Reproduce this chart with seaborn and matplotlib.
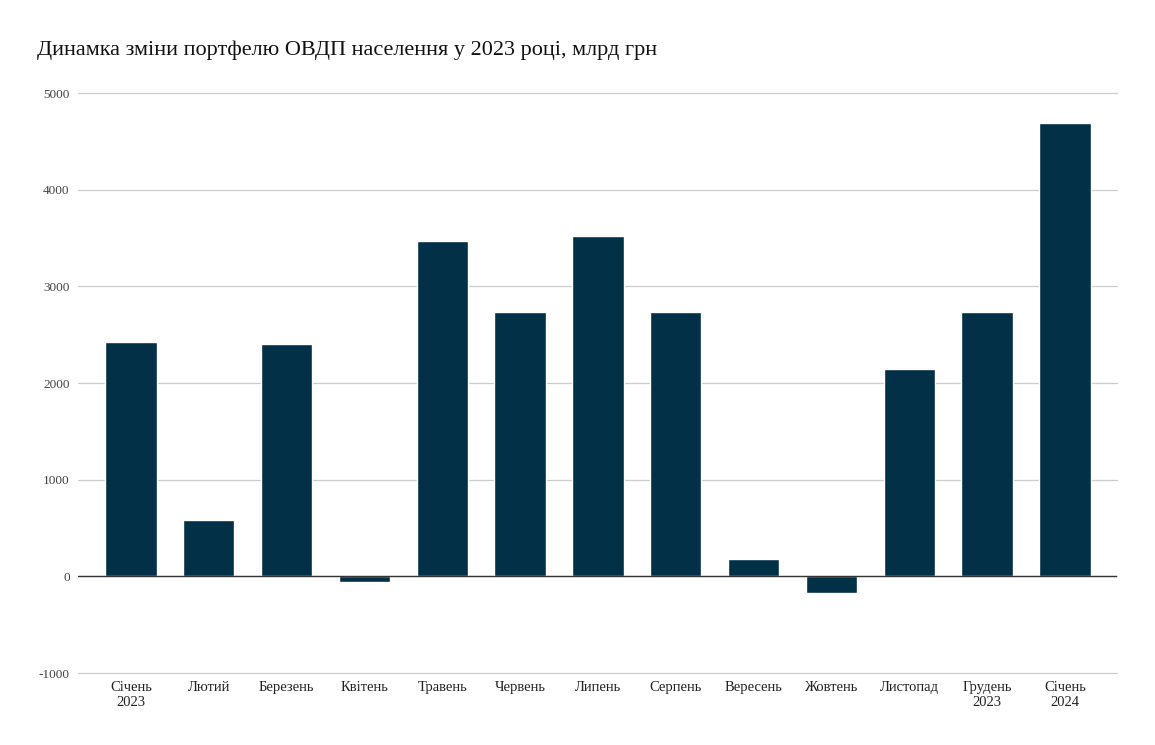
import matplotlib
matplotlib.use("Agg")
import matplotlib.pyplot as plt
import seaborn as sns

#==============================================================
# Data
#==============================================================

months = ["Січень\n2023", "Лютий", "Березень", "Квітень", "Травень", "Червень",
          "Липень", "Серпень", "Вересень", "Жовтень", "Листопад", "Грудень\n2023",
          "Січень\n2024"]
change = [2424, 580, 2403, -57, 3470, 2734, 3525, 2734, 176, -172, 2144, 2734, 4689]
y_ticks = [-1000, 0, 1000, 2000, 3000, 4000, 5000]

title = "Динамка зміни портфелю ОВДП населення у 2023 році, млрд грн"
bar_color = "#023047"

#==============================================================
# Plot
#==============================================================

sns.set_style("white")
plt.rcParams["font.family"] = ["Liberation Serif", "DejaVu Serif"]

fig = plt.figure(figsize=(11.55, 7.45), dpi=100)
ax = fig.add_axes([78 / 1155, 72 / 745, 1039 / 1155, 580 / 745])

sns.barplot(x=months, y=change, color=bar_color, saturation=1, width=0.66, ax=ax)

ax.set_ylim(-1000, 5000)
ax.set_xlim(-0.68, 12.67)
ax.set_yticks(y_ticks)
ax.set_yticklabels([str(t) for t in y_ticks], fontsize=9.5, color="#444444")
ax.tick_params(axis="x", labelsize=10.5, colors="#222222", length=0, pad=6)
ax.tick_params(axis="y", length=0, pad=6)
ax.grid(axis="y", color="#cccccc", linewidth=0.9)
for gl in ax.get_ygridlines():
    gl.set_clip_on(False)
ax.set_axisbelow(True)
ax.axhline(0, color="#333333", linewidth=1, zorder=3)
for s in ax.spines.values():
    s.set_visible(False)

fig.text(37 / 1155, 1 - 50 / 745, title, fontsize=16, ha="left", va="center", color="#111111")

fig.savefig("out.png", dpi=100)
